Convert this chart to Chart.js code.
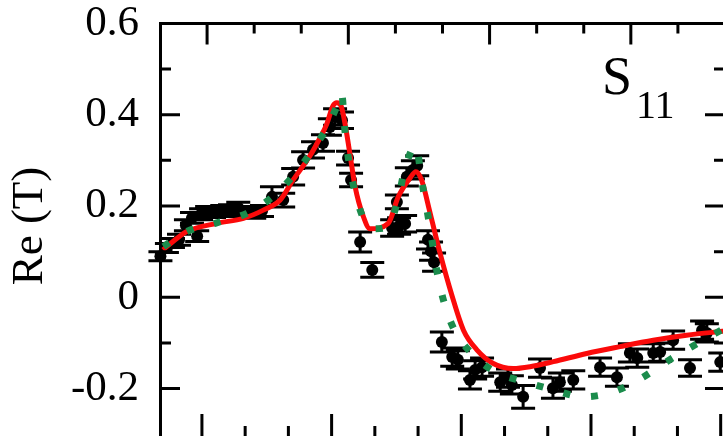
<!DOCTYPE html>
<html>
<head>
<meta charset="utf-8">
<script src="https://cdn.jsdelivr.net/npm/chart.js@4.4.1/dist/chart.umd.min.js"></script>
<style>
    html, body { margin: 0; padding: 0; background: #fff; overflow: hidden; }
    canvas { display: block; }
</style>
</head>
<body>
<canvas id="reT" width="760" height="470"></canvas>
<script>
// ============================================
// DATOS: Re(T), canal S11
// ============================================

// puntos experimentales con barra de error
const expX = [
    -0.96, -0.81, -0.67, -0.53, -0.37, -0.23, -0.11, -0.02, 0.12, 0.28,
    0.47, 0.65, 0.84, 1.02, 1.21, 1.39, 1.62, 1.88, 2.11, 2.34,
    2.57, 2.80, 2.96, 3.08, 3.24, 3.38, 3.45, 3.66, 3.94, 4.40,
    4.51, 4.56, 4.70, 4.74, 4.88, 4.98, 5.23, 5.30, 5.37, 5.55,
    5.79, 5.92, 6.20, 6.32, 6.48, 6.90, 7.08, 7.17, 7.43, 7.82,
    8.12, 8.28, 8.59, 9.21, 9.60, 9.90, 10.07, 10.44, 10.60, 10.90,
    11.29, 11.57, 11.68, 11.99
];

const expY = [
    0.090, 0.108, 0.119, 0.126, 0.158, 0.174, 0.134, 0.182, 0.187, 0.187,
    0.189, 0.191, 0.196, 0.187, 0.185, 0.189, 0.220, 0.213, 0.264, 0.301,
    0.323, 0.338, 0.373, 0.395, 0.388, 0.305, 0.257, 0.121, 0.060, 0.152,
    0.209, 0.156, 0.161, 0.264, 0.279, 0.288, 0.126, 0.101, 0.077, -0.098,
    -0.131, -0.137, -0.181, -0.159, -0.153, -0.186, -0.177, -0.192, -0.218, -0.155,
    -0.199, -0.186, -0.181, -0.153, -0.175, -0.122, -0.133, -0.122, -0.120, -0.094,
    -0.155, -0.072, -0.078, -0.142
];

const expErr = [
    0.010, 0.010, 0.010, 0.012, 0.012, 0.012, 0.012, 0.012, 0.012, 0.012,
    0.012, 0.012, 0.012, 0.012, 0.012, 0.012, 0.022, 0.015, 0.018, 0.018,
    0.018, 0.018, 0.018, 0.018, 0.018, 0.015, 0.015, 0.022, 0.016, 0.018,
    0.015, 0.018, 0.018, 0.020, 0.020, 0.022, 0.020, 0.020, 0.020, 0.022,
    0.020, 0.020, 0.020, 0.020, 0.020, 0.020, 0.020, 0.020, 0.025, 0.020,
    0.022, 0.020, 0.020, 0.020, 0.020, 0.020, 0.020, 0.020, 0.020, 0.020,
    0.018, 0.020, 0.020, 0.020
];

// ajuste (linea roja)
const fitX = [
    -0.90, -0.62, -0.35, 0.34, 0.96, 1.42, 1.81, 2.11, 2.50, 2.73,
    2.89, 3.03, 3.12, 3.22, 3.31, 3.43, 3.54, 3.73, 3.89, 4.31,
    4.54, 4.81, 4.95, 5.08, 5.28, 5.51, 5.78, 6.05, 6.36, 6.74,
    7.20, 7.59, 8.13, 8.90, 9.67, 10.44, 11.21, 12.10
];

const fitY = [
    0.104, 0.126, 0.144, 0.162, 0.173, 0.191, 0.213, 0.257, 0.310, 0.349,
    0.380, 0.419, 0.426, 0.419, 0.380, 0.310, 0.244, 0.178, 0.150, 0.162,
    0.220, 0.261, 0.275, 0.257, 0.184, 0.096, 0.005, -0.072, -0.115, -0.145,
    -0.156, -0.152, -0.141, -0.123, -0.108, -0.094, -0.083, -0.074
];

// calculo teorico (linea verde punteada)
const calcX = [
    -0.89, -0.35, 0.34, 1.04, 1.62, 2.11, 2.54, 2.92, 3.13, 3.23,
    3.31, 3.40, 3.54, 3.77, 4.00, 4.31, 4.54, 4.70, 4.95, 5.08,
    5.20, 5.32, 5.43, 5.58, 5.82, 6.24, 6.78, 7.47, 8.13, 8.82,
    9.52, 10.17, 10.75, 11.41, 12.10
];

const calcY = [
    0.111, 0.144, 0.163, 0.184, 0.219, 0.266, 0.320, 0.377, 0.421, 0.447,
    0.363, 0.297, 0.231, 0.166, 0.150, 0.155, 0.217, 0.283, 0.333, 0.257,
    0.195, 0.126, 0.060, -0.004, -0.068, -0.123, -0.163, -0.185, -0.203, -0.218,
    -0.207, -0.177, -0.141, -0.104, -0.067
];

// ejes
const yTicks = [-0.2, 0, 0.2, 0.4, 0.6];
const yMinorTicks = [-0.1, 0.1, 0.3, 0.5];
const xBottomTicks = [0, 1, 2, 3, 4, 5, 6, 7, 8, 9, 10, 11, 12];
const xTopTicks = [0, 1, 2, 3, 4, 5, 6, 7, 8, 9, 10];

const yTitle = 'Re (T)';

const SERIF = '"Liberation Serif", "Times New Roman", serif';


// ============================================
// PLUGINS
// ============================================

// barras de error bajo los puntos
const errorBars = {

    id: 'errorBars',

    beforeDatasetsDraw(chart) {

        const { ctx, scales: { x, y } } = chart;

        ctx.save();
        ctx.strokeStyle = '#000';
        ctx.lineWidth = 3;
        ctx.beginPath();

        expX.forEach((v, i) => {

            const px = x.getPixelForValue(v);
            const top = y.getPixelForValue(expY[i] + expErr[i]);
            const bot = y.getPixelForValue(expY[i] - expErr[i]);

            ctx.moveTo(px, top);
            ctx.lineTo(px, bot);
            ctx.moveTo(px - 12, top);
            ctx.lineTo(px + 12, top);
            ctx.moveTo(px - 12, bot);
            ctx.lineTo(px + 12, bot);
        });

        ctx.stroke();
        ctx.restore();
    }
};


// marcas hacia dentro en los cuatro lados, titulo del eje y etiqueta S11
const frameTicks = {

    id: 'frameTicks',

    afterDraw(chart) {

        const { ctx, chartArea: a, scales } = chart;

        ctx.save();
        ctx.strokeStyle = '#000';
        ctx.lineWidth = 3;
        ctx.beginPath();

        const yMark = (v, len) => {
            const p = scales.y.getPixelForValue(v);
            ctx.moveTo(a.left, p);
            ctx.lineTo(a.left + len, p);
            ctx.moveTo(a.right, p);
            ctx.lineTo(a.right - len, p);
        };

        yTicks.forEach(v => yMark(v, 20));
        yMinorTicks.forEach(v => yMark(v, 11));

        xBottomTicks.forEach(v => {
            const p = scales.x.getPixelForValue(v);
            const len = v % 3 === 0 ? 24 : 12;
            ctx.moveTo(p, a.bottom);
            ctx.lineTo(p, a.bottom - len);
        });

        xTopTicks.forEach(v => {
            const p = scales.x2.getPixelForValue(v);
            const len = v % 3 === 0 ? 21 : 10;
            ctx.moveTo(p, a.top);
            ctx.lineTo(p, a.top + len);
        });

        ctx.stroke();

        ctx.fillStyle = '#000';

        // titulo vertical del eje y
        ctx.save();
        ctx.translate(30, 226);
        ctx.rotate(-Math.PI / 2);
        ctx.textAlign = 'center';
        ctx.textBaseline = 'middle';
        ctx.font = '45px ' + SERIF;
        ctx.fillText(yTitle, 0, 0);
        ctx.restore();

        ctx.textBaseline = 'alphabetic';
        ctx.font = '54px ' + SERIF;
        ctx.fillText('S', a.right - 123, 94);
        ctx.font = '40px ' + SERIF;
        ctx.fillText('11', a.right - 89, 118);

        ctx.restore();
    }
};


// ============================================
// GRAFICA
// ============================================

const ctx = document.getElementById('reT').getContext('2d');

new Chart(ctx, {

    type: 'scatter',

    data: {

        datasets: [

            {
                label: 'calc',
                data: calcX.map((x, i) => ({ x, y: calcY[i] })),
                showLine: true,
                borderColor: '#1b8c4c',
                borderWidth: 7,
                borderDash: [7, 21],
                borderCapStyle: 'butt',
                cubicInterpolationMode: 'monotone',
                pointRadius: 0,
                order: 0
            },

            {
                label: 'fit',
                data: fitX.map((x, i) => ({ x, y: fitY[i] })),
                showLine: true,
                borderColor: '#fb0a0a',
                borderWidth: 5,
                cubicInterpolationMode: 'monotone',
                pointRadius: 0,
                order: 1
            },

            {
                label: 'exp',
                data: expX.map((x, i) => ({ x, y: expY[i] })),
                backgroundColor: '#000',
                borderWidth: 0,
                pointRadius: 6,
                clip: false,
                order: 2
            }
        ]
    },

    options: {

        responsive: false,
        devicePixelRatio: 1,
        animation: false,

        layout: {
            padding: { left: 0, top: 23.4, right: 35, bottom: 32.1 }
        },

        plugins: {
            legend: { display: false },
            tooltip: { enabled: false }
        },

        scales: {

            x: {
                type: 'linear',
                position: 'bottom',
                min: -0.97,
                max: 12.1,
                grid: { display: false, drawTicks: false },
                ticks: { display: false },
                border: { display: true, color: '#000', width: 3 },
                afterFit: s => { s.height = 0; }
            },

            x2: {
                type: 'linear',
                position: 'top',
                min: -1,
                max: 11,
                grid: { display: false, drawTicks: false },
                ticks: { display: false },
                border: { display: true, color: '#000', width: 3 },
                afterFit: s => { s.height = 0; }
            },

            y: {
                type: 'linear',
                position: 'left',
                min: -0.308,
                max: 0.6,
                grid: { display: false, drawTicks: false },
                border: { display: true, color: '#000', width: 3 },
                afterBuildTicks: s => {
                    s.ticks = yTicks.map(value => ({ value }));
                },
                ticks: {
                    color: '#000',
                    padding: 21,
                    font: { family: SERIF, size: 43 },
                    callback: v => (Math.abs(v) < 1e-9 ? '0' : v.toFixed(1))
                },
                afterFit: s => {
                    s.width = 160;
                    s.paddingTop = 0;
                    s.paddingBottom = 0;
                }
            },

            y2: {
                type: 'linear',
                position: 'right',
                min: -0.308,
                max: 0.6,
                grid: { display: false, drawTicks: false },
                ticks: { display: false },
                border: { display: true, color: '#000', width: 3 },
                afterFit: s => { s.width = 0; }
            }
        }
    },

    plugins: [errorBars, frameTicks]
});
</script>
</body>
</html>
